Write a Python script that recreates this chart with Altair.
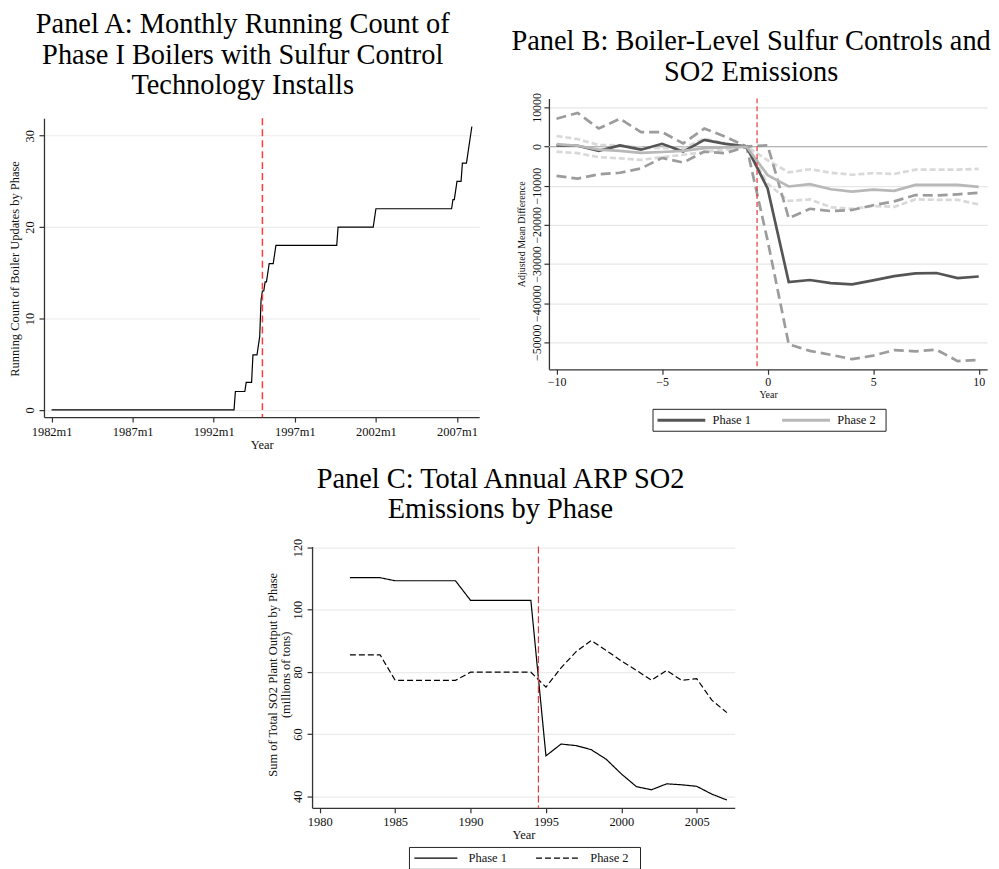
import altair as alt
import pandas as pd

FONT = "Liberation Serif"

# ---------------- Panel A: running count (vertices of the monthly series) ----------------
a_month = ["1982-01", "1993-04", "1993-05", "1993-12", "1994-01", "1994-05", "1994-06",
           "1994-09", "1994-11", "1994-12", "1995-01", "1995-02", "1995-03", "1995-04",
           "1995-06", "1995-09", "1995-11", "1999-08", "1999-09", "2001-11", "2002-01",
           "2006-09", "2006-10", "2006-11", "2007-01", "2007-04", "2007-05", "2007-08",
           "2007-12"]
a_count = [0, 0, 2, 2, 3, 3, 6, 6, 8, 12, 13, 13, 14, 14, 16, 16, 18, 18, 20, 20, 22,
           22, 23, 23, 25, 25, 27, 27, 31]
a_ticks = [1982, 1987, 1992, 1997, 2002, 2007]
a_event = 1995.0

# ---------------- Panel B: event-study estimates ----------------
b_year = list(range(-10, 11))
b_p1 = [300, 200, -1100, 300, -800, 700, -1300, 1700, 700, 0, -10700, -34600, -34100,
        -34900, -35200, -34200, -33100, -32400, -32300, -33600, -33200]
b_p2 = [600, 200, -800, -1100, -1600, -1400, -1100, -400, -200, 0, -7300, -10200, -9600,
        -10900, -11500, -11000, -11300, -9800, -9800, -9800, -10300]
b_p1_hi = [7100, 8600, 4600, 7100, 3700, 3700, 800, 4600, 2500, 0, 300, -18300, -15900,
           -16500, -16200, -15000, -14000, -12400, -12500, -12200, -11800]
b_p1_lo = [-7500, -8200, -7100, -6700, -5600, -2900, -4100, -1300, -1700, 0, -24000, -50500,
           -52200, -53200, -54300, -53400, -52000, -52300, -51900, -54800, -54500]
b_p2_hi = [2700, 1900, 400, 300, -300, -400, -400, 2000, 800, 0, -3500, -6600, -5800,
           -6700, -7200, -6800, -7000, -5900, -5900, -5900, -5700]
b_p2_lo = [-1300, -1700, -2700, -3000, -3400, -2700, -2100, -1400, -800, 0, -9500, -13900,
           -13500, -15500, -15900, -15200, -15400, -13500, -13600, -13600, -14800]
b_event = -0.5

# ---------------- Panel C: annual totals ----------------
c_year = list(range(1982, 2008))
c_p1 = [110.3, 110.3, 110.3, 109.3, 109.3, 109.3, 109.3, 109.3, 103.0, 103.0, 103.0, 103.0,
        103.0, 53.0, 56.8, 56.3, 55.0, 51.9, 47.2, 43.1, 42.1, 44.0, 43.7, 43.2, 40.7, 38.8]
c_p2 = [85.5, 85.5, 85.5, 77.3, 77.3, 77.3, 77.3, 77.3, 79.9, 79.9, 79.9, 79.9, 79.9, 75.1,
        81.3, 86.5, 90.1, 86.9, 83.5, 80.5, 77.3, 80.5, 77.3, 77.8, 70.9, 66.9]
c_event = 1994.5

phases = ["Phase 1", "Phase 2"]

# ---------------- helpers ----------------
AX = dict(domainColor="#333333", domainWidth=1.3, tickColor="#333333", tickSize=5,
          tickWidth=1.2, labelFont=FONT, titleFont=FONT, labelColor="#111111",
          titleColor="#111111", titleFontWeight="normal", labelOverlap=False,
          labelFlush=False)


def yaxis(values, pad, title, tx, ty, tsize, lsize, grid_color="#ececec"):
    return alt.Axis(values=values, labelAngle=270, labelAlign="center",
                    labelBaseline="alphabetic", labelPadding=pad, labelFontSize=lsize,
                    title=title, titleX=tx, titleY=ty, titleAngle=270,
                    titleAlign="center", titleBaseline="alphabetic", titleFontSize=tsize,
                    titleLineHeight=12.5, grid=True, gridColor=grid_color, gridWidth=1.2,
                    format="d", **AX)


def xaxis(values, pad, ty, tsize, lsize, label_expr=None):
    kw = dict(values=values, labelPadding=pad, labelFontSize=lsize, title="Year",
              titleY=ty, titleBaseline="alphabetic", titleFontSize=tsize, grid=False,
              format="d", **AX)
    if label_expr:
        kw["labelExpr"] = label_expr
    return alt.Axis(**kw)


def title(lines, dx, offset):
    return alt.TitleParams(text=lines, font=FONT, fontSize=28.5, fontWeight="normal",
                           lineHeight=31, anchor="middle", frame="group", dx=dx,
                           offset=offset, color="black")


def legend(lx, ly, path, sw, soff, loff, cpad, tpad, stroke_color=None):
    kw = dict(orient="none", legendX=lx, legendY=ly, direction="horizontal",
              title=" ", titleOrient="right", titlePadding=tpad, titleFontSize=12.5,
              strokeColor="#222222", fillColor="white", padding=4, symbolType=path,
              symbolSize=144, symbolStrokeWidth=sw, symbolOffset=soff, labelOffset=loff,
              columnPadding=cpad, labelFont=FONT, labelFontSize=12.5, labelColor="#111111")
    if stroke_color:
        kw["symbolStrokeColor"] = stroke_color
    return alt.Legend(**kw)


# ---------------- Panel A ----------------
a_df = pd.DataFrame({"month": a_month, "count": a_count})
a_df["t"] = a_df["month"].str[:4].astype(int) + (a_df["month"].str[5:].astype(int) - 1) / 12

ax_a = alt.X("t:Q", scale=alt.Scale(domain=[1981.53, 2008.37], nice=False, zero=False),
             axis=xaxis(a_ticks, 3.4, 31.5, 12.5, 12.5, "datum.value + 'm1'"))
ay_a = alt.Y("count:Q", scale=alt.Scale(domain=[-0.8, 31.9], range=[320, 20], nice=False,
                                        zero=False),
             axis=yaxis([0, 10, 20, 30], 5.7, "Running Count of Boiler Updates by Phase",
                        -25.7, 170.8, 12.5, 12.5))

a_line = alt.Chart(a_df).mark_line(color="black", strokeWidth=1.2).encode(x=ax_a, y=ay_a)
a_rule = alt.Chart(pd.DataFrame({"e": [a_event]})).mark_rule(
    color="#ff3b3b", strokeWidth=1.5, strokeDash=[7, 4]).encode(
    x="e:Q", y=alt.value(20), y2=alt.value(320))
panel_a = alt.layer(a_line, a_rule).properties(
    width=437, height=320,
    title=title(["Panel A: Monthly Running Count of", "Phase I Boilers with Sulfur Control",
                 "Technology Installs"], -19, -1.5))

# ---------------- Panel B ----------------
b_main = pd.DataFrame({"year": b_year * 2, "value": b_p1 + b_p2,
                       "series": ["Phase 1"] * len(b_year) + ["Phase 2"] * len(b_year)})
b_ci = pd.DataFrame({"year": b_year, "p1_hi": b_p1_hi, "p1_lo": b_p1_lo,
                     "p2_hi": b_p2_hi, "p2_lo": b_p2_lo})

bx = alt.X("year:Q", scale=alt.Scale(domain=[-10.36, 10.4], nice=False, zero=False),
           axis=xaxis([-10, -5, 0, 5, 10], 2.5, 28.5, 10, 12))
b_yscale = alt.Scale(domain=[-56900, 12300], nice=False, zero=False)
b_yaxis = yaxis([-50000, -40000, -30000, -20000, -10000, 0, 10000], 3.4,
                "Adjusted Mean Difference", -24.7, 136, 10, 12, "#e6e6e6")

b_zero = alt.Chart(pd.DataFrame({"z": [0]})).mark_rule(color="#b4b4b4", strokeWidth=1.3).encode(
    y=alt.Y("z:Q", scale=b_yscale, axis=b_yaxis))


def ci_layer(col, color, dash):
    return alt.Chart(b_ci).mark_line(color=color, strokeWidth=2.7, strokeDash=dash).encode(
        x=bx, y=alt.Y(f"{col}:Q", scale=b_yscale, axis=b_yaxis))


b_lines = alt.Chart(b_main).mark_line(strokeWidth=2.7).encode(
    x=bx, y=alt.Y("value:Q", scale=b_yscale, axis=b_yaxis),
    color=alt.Color("series:N", scale=alt.Scale(domain=phases, range=["#555555", "#b8b8b8"]),
                    legend=legend(104, 311.7, "M-4,0H4", 3, 17.5, 23.8, 25.2, 5.7)))
b_rule = alt.Chart(pd.DataFrame({"e": [b_event]})).mark_rule(
    color="#e8383d", strokeWidth=1.2, strokeDash=[5, 3]).encode(x="e:Q")

panel_b = alt.layer(
    b_zero,
    ci_layer("p2_hi", "#d9d9d9", [6, 3]), ci_layer("p2_lo", "#d9d9d9", [6, 3]),
    ci_layer("p1_hi", "#9c9c9c", [10, 5]), ci_layer("p1_lo", "#9c9c9c", [10, 5]),
    b_lines, b_rule
).properties(width=440, height=272,
             title=title(["Panel B: Boiler-Level Sulfur Controls and", "SO2 Emissions"],
                         -17, 6.2))

# ---------------- Panel C ----------------
c_df = pd.DataFrame({"year": c_year * 2, "value": c_p1 + c_p2,
                     "phase": ["Phase 1"] * len(c_year) + ["Phase 2"] * len(c_year)})
cx = alt.X("year:Q", scale=alt.Scale(domain=[1979.49, 2007.52], nice=False, zero=False),
           axis=xaxis([1980, 1985, 1990, 1995, 2000, 2005], 2.8, 30.7, 12.5, 12.5))
c_yscale = alt.Scale(domain=[36.3, 120.3], nice=False, zero=False)
c_lines = alt.Chart(c_df).mark_line(color="black", strokeWidth=1.2).encode(
    x=cx,
    y=alt.Y("value:Q", scale=c_yscale,
            axis=yaxis([40, 60, 80, 100, 120], 5.6,
                       ["Sum of Total SO2 Plant Output by Phase", "(millions of tons)"],
                       -35.3, 128.3, 12.5, 12.5)),
    strokeDash=alt.StrokeDash("phase:N",
                              scale=alt.Scale(domain=phases, range=[[1, 0], [6, 3]]),
                              legend=legend(97.3, 301.6, "M-3.6,0H3.6", 1.2, 16, 25.8, 26.2,
                                            6.4, "black")))
c_rule = alt.Chart(pd.DataFrame({"e": [c_event]})).mark_rule(
    color="#e8383d", strokeWidth=1.2, strokeDash=[7, 3]).encode(x="e:Q")
panel_c = alt.layer(c_lines, c_rule).properties(
    width=424.4, height=262.3,
    title=title(["Panel C: Total Annual ARP SO2", "Emissions by Phase"], -23, 14.3))

# invisible 12px-wide cell that nudges the centred bottom row to the right
spacer = alt.Chart(pd.DataFrame({"v": [0]})).mark_point(opacity=0).encode(
    x=alt.X("v:Q", axis=None), y=alt.Y("v:Q", axis=None)).properties(width=12, height=10)

top = alt.hconcat(panel_a, panel_b, spacing=70, bounds="flush"
                  ).resolve_scale(color="independent").resolve_legend(color="independent")
bottom = alt.hconcat(spacer, panel_c, spacing=0, bounds="flush"
                     ).resolve_scale(strokeDash="independent"
                     ).resolve_legend(strokeDash="independent")

chart = alt.vconcat(top, bottom, spacing=13, center=True
                    ).resolve_scale(color="independent", strokeDash="independent"
                    ).resolve_legend(color="independent", strokeDash="independent"
                    ).properties(padding=0, background="white"
                    ).configure_view(stroke=None)

chart.save("out.html", embed_options={"renderer": "svg", "actions": False})
